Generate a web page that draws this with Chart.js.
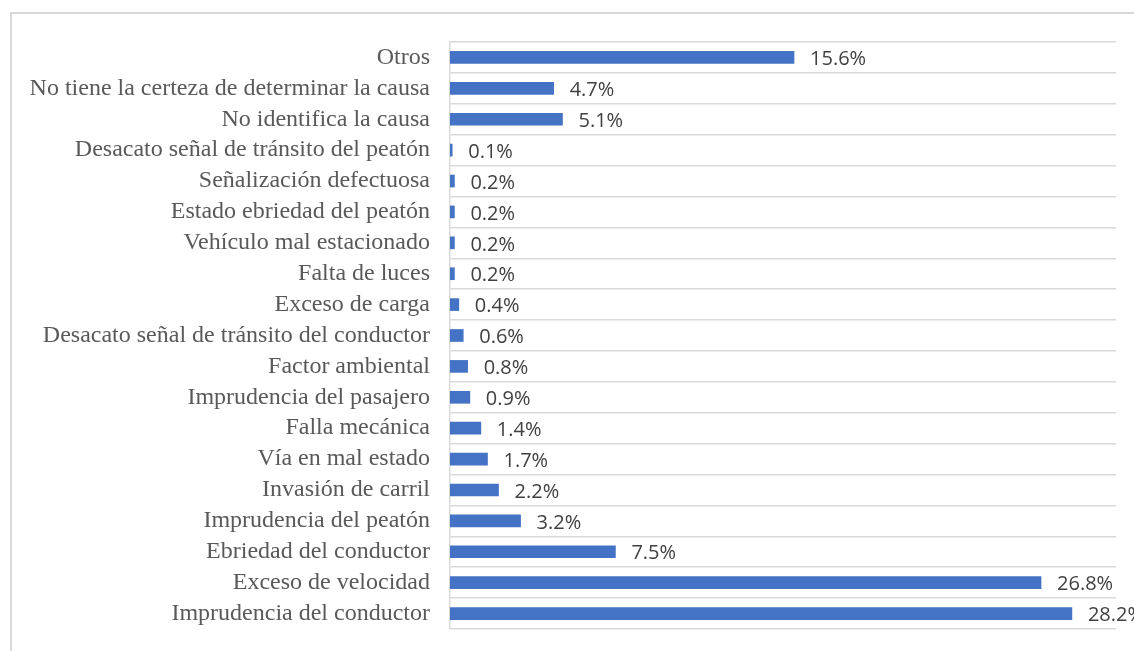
<!DOCTYPE html>
<html>
<head>
<meta charset="utf-8">
<script src="https://cdn.jsdelivr.net/npm/chart.js@4/dist/chart.umd.min.js"></script>
<style>
    html, body { margin: 0; padding: 0; background: #fff; overflow: hidden; }
    #frame { position: absolute; left: 10px; top: 12px; width: 1200px; height: 700px; border: 2px solid #d9d9d9; }
    #wrap { position: absolute; left: 0; top: 0; width: 1134px; height: 651px; }
</style>
</head>
<body>
<div id="frame"></div>
<div id="wrap"><canvas id="barChart" width="1134" height="651"></canvas></div>
<script>
// categories, top to bottom as in the picture
var causas = [
    "Otros",
    "No tiene la certeza de determinar la causa",
    "No identifica la causa",
    "Desacato señal de tránsito del peatón",
    "Señalización defectuosa",
    "Estado ebriedad del peatón",
    "Vehículo mal estacionado",
    "Falta de luces",
    "Exceso de carga",
    "Desacato señal de tránsito del conductor",
    "Factor ambiental",
    "Imprudencia del pasajero",
    "Falla mecánica",
    "Vía en mal estado",
    "Invasión de carril",
    "Imprudencia del peatón",
    "Ebriedad del conductor",
    "Exceso de velocidad",
    "Imprudencia del conductor"
];
var porcentajes = [15.6, 4.7, 5.1, 0.1, 0.2, 0.2, 0.2, 0.2, 0.4, 0.6, 0.8, 0.9, 1.4, 1.7, 2.2, 3.2, 7.5, 26.8, 28.2];

// simple value labels at the end of each bar
var valueLabels = {
    id: 'valueLabels',
    afterDatasetsDraw: function (chart) {
        var ctx = chart.ctx;
        var meta = chart.getDatasetMeta(0);
        ctx.save();
        ctx.font = '20px "Open Sans"';
        ctx.fillStyle = '#404040';
        ctx.textBaseline = 'middle';
        ctx.textAlign = 'left';
        meta.data.forEach(function (bar, i) {
            ctx.fillText(porcentajes[i].toFixed(1) + '%', bar.x + 16, bar.y + 2);
        });
        ctx.restore();
    }
};

const CHART = document.getElementById("barChart");
var barChart = new Chart(CHART, {
    type: 'bar',
    data: {
        labels: causas,
        datasets: [{
            data: porcentajes,
            backgroundColor: '#4472c4',
            barThickness: 12
        }]
    },
    options: {
        indexAxis: 'y',
        responsive: false,
        animation: false,
        layout: { padding: { top: 42, bottom: 22, right: 18, left: 0 } },
        plugins: { legend: { display: false }, tooltip: { enabled: false } },
        scales: {
            x: { display: false, min: 0, max: 30.2 },
            y: {
                afterFit: function (scale) {
                    scale.width = 450;
                    scale.paddingTop = 0;
                    scale.paddingBottom = 0;
                },
                ticks: {
                    autoSkip: false,
                    color: '#595959',
                    padding: 20,
                    font: { family: '"Liberation Serif", "Times New Roman", serif', size: 24 }
                },
                grid: { color: '#d9d9d9', lineWidth: 1.5, drawTicks: false },
                border: { color: '#d9d9d9', width: 1.5 }
            }
        }
    },
    plugins: [valueLabels]
});
</script>
</body>
</html>
